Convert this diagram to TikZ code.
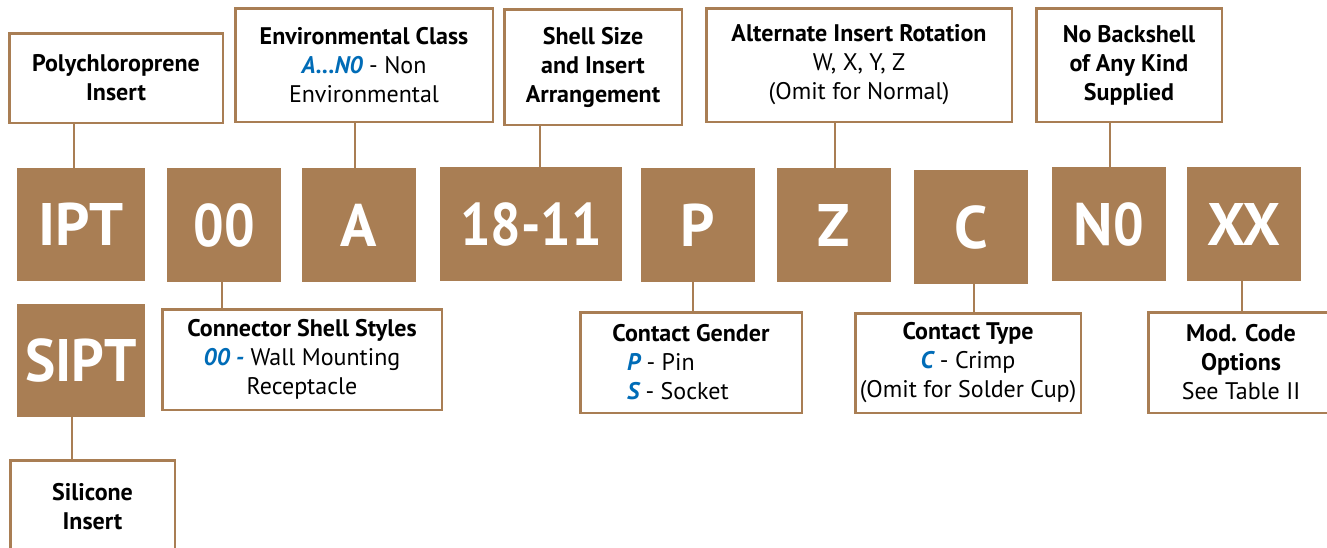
\documentclass[tikz,border=0pt]{standalone}
\usepackage{fontspec}
\setmainfont{PT Sans}
\definecolor{brn}{RGB}{169,126,84}
\definecolor{blu}{RGB}{0,108,183}
\newcommand{\bl}[1]{\textcolor{blu}{\bfseries\itshape #1}}
\newcommand{\dg}[1]{\scalebox{0.9}[1]{#1}}
\tikzset{
  codebox/.style={fill=brn, draw=none, inner sep=0pt, text=white,
    font=\fontsize{60}{60}\selectfont\bfseries, text depth=0pt},
  lbl/.style={draw=brn, line width=2.5pt, fill=white, inner sep=0pt, align=center,
    font=\fontsize{24}{29}\selectfont},
  lblb/.style={lbl, font=\fontsize{24}{29}\selectfont\bfseries},
  conn/.style={draw=brn, line width=2.3pt}
}
\begin{document}
\begin{tikzpicture}[x=1pt,y=-1pt]
\useasboundingbox (0,0) rectangle (1327,547);
\clip (0,0) rectangle (1327,547);
% code boxes
\tikzset{cb/.style={codebox, minimum width=#1, minimum height=113.5, text height=42pt}}
\node[cb=128] (ipt)  at (81,224.5) {IPT};
\node[cb=114] (oo)   at (224,225) {\dg{00}};
\node[cb=114] (a)    at (359,225) {A};
\node[cb=182] (sz)   at (531,224) {\dg{18-11}};
\node[cb=114] (p)    at (698,225) {P};
\node[cb=114] (z)    at (834,225) {Z};
\node[cb=114] (c)    at (971,227) {C};
\node[cb=114] (n0)   at (1109,224) {N\dg{0}};
\node[cb=114] (xx)   at (1244,224) {XX};
\node[cb=128] (sipt) at (81,360.5) {\scalebox{0.95}[1]{SIPT}};
% label boxes (top)
\node[lblb, minimum width=213.5, minimum height=89.5] (poly) at (116,78) {Polychloroprene\\Insert};
\node[lbl, minimum width=257.5, minimum height=113.5] (env) at (364,65) {\textbf{Environmental Class}\\\bl{A...N0} - Non\\Environmental};
\node[lblb, minimum width=177.5, minimum height=115.5] (shell) at (593,67) {Shell Size\\and Insert\\Arrangement};
\node[lbl, minimum width=305.5, minimum height=113.5] (alt) at (859,65) {\textbf{Alternate Insert Rotation}\\W, X, Y, Z\\(Omit for Normal)};
\node[lblb, minimum width=185.5, minimum height=113.5] (nob) at (1129,65) {No Backshell\\of Any Kind\\Supplied};
% label boxes (bottom)
\node[lbl, minimum width=279.5, minimum height=100.5] (css) at (302,359.5) {\textbf{Connector Shell Styles}\\\bl{00 -} Wall Mounting\\Receptacle};
\node[lblb, minimum width=164.5, minimum height=92] (sil) at (92.5,506.5) {Silicone\\Insert};
\node[lbl, minimum width=221.5, minimum height=100.5] (gen) at (691,362.5) {\textbf{Contact Gender}\\\makebox[128pt][l]{\bl{P} - Pin}\\\makebox[128pt][l]{\bl{S} - Socket}};
\node[lbl, minimum width=225.5, minimum height=99.5] (ct) at (968,363) {\textbf{Contact Type}\\\bl{C} - Crimp\\(Omit for Solder Cup)};
\node[lbl, minimum width=185.5, minimum height=100.5] (mod) at (1241,362.5) {\textbf{Mod. Code}\\\textbf{Options}\\See Table II};
% connectors
\draw[conn] ([xshift=-42]poly.south) -- ([xshift=-7]ipt.north);
\draw[conn] ([xshift=-9]env.south) -- ([xshift=-4]a.north);
\draw[conn] ([xshift=-53]shell.south) -- ([xshift=9]sz.north);
\draw[conn] ([xshift=-24]alt.south) -- ([xshift=1]z.north);
\draw[conn] ([xshift=-19]nob.south) -- ([xshift=1]n0.north);
\draw[conn] ([xshift=-2]oo.south) -- ([xshift=-80]css.north);
\draw[conn] ([xshift=-9]sipt.south) -- ([xshift=-20.5]sil.north);
\draw[conn] ([xshift=-5]p.south) -- ([xshift=2]gen.north);
\draw[conn] ([xshift=3]c.south) -- ([xshift=6]ct.north);
\draw[conn] ([xshift=-2]xx.south) -- ([xshift=1]mod.north);
\end{tikzpicture}
\end{document}
